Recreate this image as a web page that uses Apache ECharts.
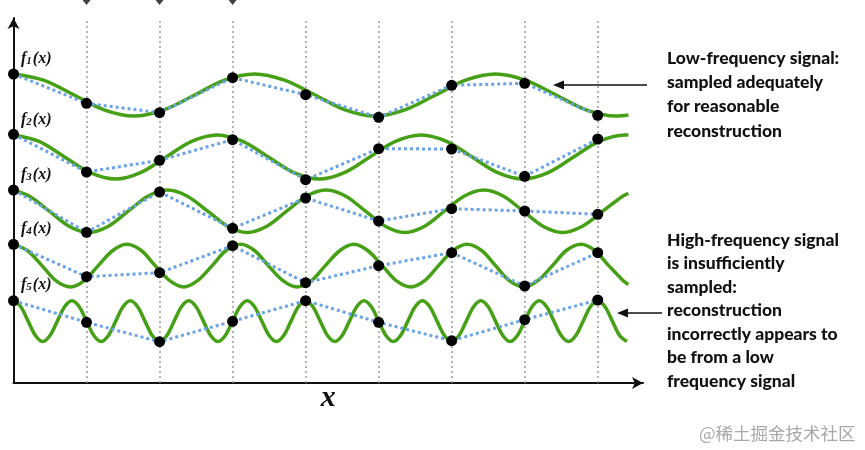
<!DOCTYPE html>
<html><head><meta charset="utf-8">
<script src="https://cdn.jsdelivr.net/npm/echarts@6/dist/echarts.min.js"></script>
<style>html,body{margin:0;padding:0;background:#fff}#c{width:865px;height:450px}</style>
</head><body><div id="c"></div>
<script>
// sample positions (in units of sample spacing)
const sampleX = [0, 1, 2, 3, 4, 5, 6, 7, 8];
const topMarkX = [1, 2, 3];

// sampled values (dots), height units above x axis
const f1Samples = [30.9, 27.97, 27.03, 30.53, 28.83, 26.57, 29.77, 29.97, 26.77];
const f2Samples = [24.87, 21.1, 22.27, 24.33, 20.33, 23.43, 23.4, 20.67, 24.4];
const f3Samples = [19.3, 15.07, 19.1, 15.47, 18.5, 16.2, 17.43, 17.2, 16.87];
const f4Samples = [13.87, 10.63, 11.03, 13.73, 10.03, 11.73, 13.03, 9.7, 13.03];
const f5Samples = [8.23, 6.07, 4.13, 6.17, 8.23, 6.07, 4.23, 6.33, 8.3];

// continuous signals, points
const f1Curve = [[0,30.9],[0.41,30.28],[0.83,28.8],[1.24,27.32],[1.65,26.7],[2.06,27.32],[2.48,28.8],[2.89,30.28],[3.3,30.9],[3.71,30.28],[4.13,28.8],[4.54,27.32],[4.95,26.7],[5.36,27.32],[5.78,28.8],[6.19,30.28],[6.6,30.9],[7.01,30.28],[7.43,28.8],[7.84,27.32],[8.25,26.7],[8.42,26.81]];
const f2Curve = [[0,24.8],[0.35,24.16],[0.7,22.6],[1.05,21.04],[1.4,20.4],[1.74,21.04],[2.09,22.6],[2.44,24.16],[2.79,24.8],[3.14,24.16],[3.49,22.6],[3.84,21.04],[4.19,20.4],[4.53,21.04],[4.88,22.6],[5.23,24.16],[5.58,24.8],[5.93,24.16],[6.28,22.6],[6.63,21.04],[6.98,20.4],[7.32,21.04],[7.67,22.6],[8.02,24.16],[8.37,24.8],[8.42,24.79]];
const f3Curve = [[0,19.28],[0.22,18.68],[0.49,17.18],[0.76,15.68],[1.03,15.05],[1.3,15.68],[1.57,17.18],[1.84,18.68],[2.11,19.3],[2.38,18.68],[2.66,17.18],[2.93,15.68],[3.2,15.05],[3.47,15.68],[3.74,17.18],[4.01,18.68],[4.28,19.3],[4.55,18.68],[4.82,17.18],[5.09,15.68],[5.36,15.05],[5.63,15.68],[5.9,17.18],[6.17,18.68],[6.44,19.3],[6.71,18.68],[6.98,17.18],[7.25,15.68],[7.52,15.05],[7.79,15.68],[8.07,17.18],[8.34,18.68],[8.42,18.97]];
const f4Curve = [[0,13.87],[0.19,13.25],[0.39,11.74],[0.58,10.23],[0.78,9.6],[0.97,10.23],[1.16,11.74],[1.36,13.25],[1.55,13.87],[1.75,13.25],[1.94,11.74],[2.14,10.23],[2.33,9.6],[2.52,10.23],[2.72,11.74],[2.91,13.25],[3.11,13.87],[3.3,13.25],[3.49,11.74],[3.69,10.23],[3.88,9.6],[4.08,10.23],[4.27,11.74],[4.47,13.25],[4.66,13.87],[4.85,13.25],[5.05,11.74],[5.24,10.23],[5.44,9.6],[5.63,10.23],[5.82,11.74],[6.02,13.25],[6.21,13.87],[6.41,13.25],[6.6,11.74],[6.79,10.23],[6.99,9.6],[7.18,10.23],[7.38,11.74],[7.57,13.25],[7.77,13.87],[7.96,13.25],[8.15,11.74],[8.35,10.23],[8.42,9.85]];
const f5Curve = [[0,8.23],[0.1,7.63],[0.2,6.19],[0.3,4.75],[0.4,4.15],[0.5,4.75],[0.6,6.19],[0.7,7.63],
[0.8,8.23],[0.9,7.63],[1.0,6.19],[1.1,4.75],[1.2,4.15],[1.3,4.75],[1.4,6.19],[1.5,7.63],
[1.6,8.23],[1.7,7.63],[1.8,6.19],[1.9,4.75],[2.0,4.15],[2.1,4.75],[2.2,6.19],[2.3,7.63],
[2.4,8.23],[2.5,7.63],[2.6,6.19],[2.7,4.75],[2.8,4.15],[2.9,4.75],[3.0,6.19],[3.1,7.63],
[3.2,8.23],[3.3,7.63],[3.4,6.19],[3.5,4.75],[3.6,4.15],[3.7,4.75],[3.8,6.19],[3.9,7.63],
[4.0,8.23],[4.1,7.63],[4.2,6.19],[4.3,4.75],[4.4,4.15],[4.5,4.75],[4.6,6.19],[4.7,7.63],
[4.8,8.23],[4.9,7.63],[5.0,6.19],[5.1,4.75],[5.2,4.15],[5.3,4.75],[5.4,6.19],[5.5,7.63],
[5.6,8.23],[5.7,7.63],[5.8,6.19],[5.9,4.75],[6.0,4.15],[6.1,4.75],[6.2,6.19],[6.3,7.63],
[6.4,8.23],[6.5,7.63],[6.6,6.19],[6.7,4.75],[6.8,4.15],[6.9,4.75],[7.0,6.19],[7.1,7.63],
[7.2,8.23],[7.3,7.63],[7.4,6.19],[7.5,4.75],[7.6,4.15],[7.7,4.75],[7.8,6.19],[7.9,7.63],
[8.0,8.23],[8.1,7.63],[8.2,6.19],[8.3,4.75],[8.4,4.15]];

const curveIndex = ['1', '2', '3', '4', '5'];
const lowText = ['Low-frequency signal:', 'sampled adequately', 'for reasonable', 'reconstruction'];
const highText = ['High-frequency signal', 'is insufficiently', 'sampled:', 'reconstruction', 'incorrectly appears to', 'be from a low', 'frequency signal'];
const watermark = '@稀土掘金技术社区';

const GREEN = '#46a015';
const BLUE = '#6aa3e6';
const INK = '#111111';

const curves = [f1Curve, f2Curve, f3Curve, f4Curve, f5Curve];
const samples = [f1Samples, f2Samples, f3Samples, f4Samples, f5Samples];

const series = [];
curves.forEach((c, i) => {
  const s = {
    type: 'line', data: c, smooth: 0.33, showSymbol: false, silent: true,
    lineStyle: { color: GREEN, width: 3.5 }, z: 2, animation: false
  };
  if (i === 0) {
    s.markLine = {
      silent: true, z: 1, symbol: ['none', 'none'], label: { show: false }, animation: false,
      emphasis: { disabled: true },
      lineStyle: { color: '#9a9a9a', width: 1.5, type: [2, 3] },
      data: sampleX.slice(1).map(v => ({ xAxis: v }))
    };
  }
  series.push(s);
});
samples.forEach(arr => {
  series.push({
    type: 'line', data: sampleX.map((x, j) => [x, arr[j]]), silent: true,
    showSymbol: false,
    lineStyle: { color: BLUE, width: 3, type: [3, 3] }, z: 3, animation: false
  });
});
samples.forEach(arr => {
  series.push({
    type: 'scatter', data: sampleX.map((x, j) => [x, arr[j]]), silent: true,
    symbol: 'circle', symbolSize: 11,
    itemStyle: { color: '#000', opacity: 1 },
    emphasis: { disabled: true }, z: 6, animation: false
  });
});
series.push({
  type: 'scatter', data: topMarkX.map(x => [x, 38.18]), clip: false, silent: true,
  symbol: 'triangle', symbolRotate: 180, symbolSize: [12, 7.5],
  itemStyle: { color: INK }, emphasis: { disabled: true }, z: 6, animation: false
});

const labelY = [59, 119.5, 175, 228.5, 285];
const graphic = [];
const serif = '"Liberation Serif", "DejaVu Serif", serif';
curveIndex.forEach((t, i) => {
  graphic.push({
    type: 'text', x: 21, y: labelY[i], silent: true,
    style: {
      text: '{a|f}{b|' + t + '}{a|(x)}', verticalAlign: 'middle',
      rich: {
        a: { fontFamily: serif, fontStyle: 'italic', fontWeight: 'bold', fontSize: 16, fill: INK, color: INK, verticalAlign: 'middle' },
        b: { fontFamily: serif, fontStyle: 'italic', fontWeight: 'bold', fontSize: 11, fill: INK, color: INK, verticalAlign: 'bottom', padding: [0, 1, 0, 0] }
      }
    }
  });
});
graphic.push({
  type: 'text', x: 667, y: 45.9, silent: true,
  style: { text: lowText.join('\n'), fontFamily: 'Lato', fontWeight: 900, fontSize: 17.5,
    lineHeight: 24.3, fill: INK, verticalAlign: 'top' }
});
graphic.push({
  type: 'text', x: 667, y: 228.3, silent: true,
  style: { text: highText.join('\n'), fontFamily: 'Lato', fontWeight: 900, fontSize: 17.5,
    lineHeight: 23.5, fill: INK, verticalAlign: 'top' }
});
// annotation arrows
graphic.push({ type: 'line', silent: true, shape: { x1: 647, y1: 85, x2: 560, y2: 85 }, style: { stroke: INK, lineWidth: 1.6 } });
graphic.push({ type: 'polygon', silent: true, shape: { points: [[553, 85], [564, 80.5], [564, 89.5]] }, style: { fill: INK } });
graphic.push({ type: 'line', silent: true, shape: { x1: 662, y1: 313, x2: 624, y2: 313 }, style: { stroke: INK, lineWidth: 1.6 } });
graphic.push({ type: 'polygon', silent: true, shape: { points: [[617, 313], [628, 308.5], [628, 317.5]] }, style: { fill: INK } });
graphic.push({
  type: 'text', x: 699, y: 433, silent: true,
  style: { text: watermark, fontFamily: '"Noto Sans CJK SC", sans-serif', fontSize: 17.5,
    fill: '#a8a8a8', verticalAlign: 'middle' }
});

const chart = echarts.init(document.getElementById('c'), null, { renderer: 'canvas' });
chart.setOption({
  backgroundColor: '#ffffff',
  animation: false,
  grid: { left: 13.5, top: 18, width: 629.5, height: 365 },
  xAxis: {
    type: 'value', min: 0, max: 8.62,
    axisLine: { show: true, symbol: ['none', 'arrow'], symbolSize: [9, 11], lineStyle: { color: INK, width: 2 } },
    axisTick: { show: false }, axisLabel: { show: false }, splitLine: { show: false },
    name: 'x', nameLocation: 'middle', nameGap: 0,
    nameTextStyle: { fontFamily: '"Liberation Serif", serif', fontStyle: 'italic', fontWeight: 'bold', fontSize: 30, color: INK, verticalAlign: 'top' }
  },
  yAxis: {
    type: 'value', min: 0, max: 36.5,
    axisLine: { show: true, symbol: ['none', 'arrow'], symbolSize: [9, 11], lineStyle: { color: INK, width: 2 } },
    axisTick: { show: false }, axisLabel: { show: false }, splitLine: { show: false }
  },
  series: series,
  graphic: graphic
});
</script>
</body></html>
